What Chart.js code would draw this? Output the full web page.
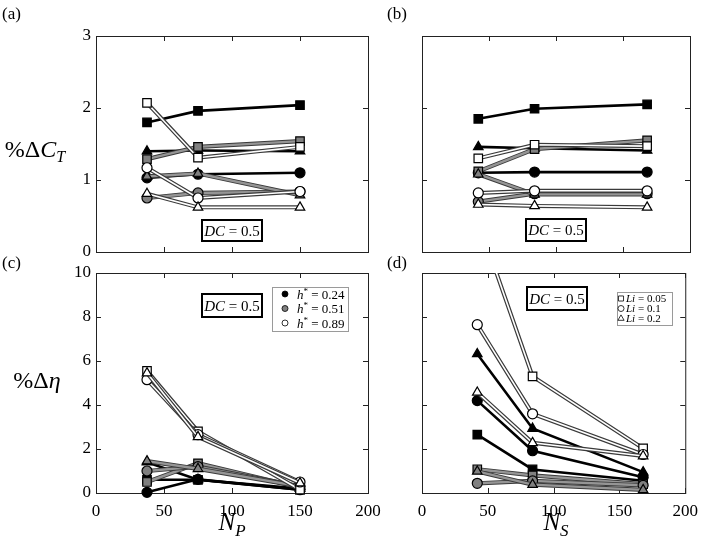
<!DOCTYPE html>
<html>
<head>
<meta charset="utf-8">
<script src="https://cdn.jsdelivr.net/npm/chart.js@4.4.1/dist/chart.umd.min.js"></script>
<style>
  body { margin: 0; background: #fff; }
  #wrap { position: relative; width: 706px; height: 542px; }
  #wrap canvas { position: absolute; left: 0; top: 0; }
</style>
</head>
<body>
<div id="wrap">
  <canvas id="pa" width="706" height="542"></canvas>
  <canvas id="pb" width="706" height="542"></canvas>
  <canvas id="pc" width="706" height="542"></canvas>
  <canvas id="pd" width="706" height="542"></canvas>
</div>
<script>
// x positions
const NP = [37.5, 75, 150];
const NS = [42, 84, 168];
const hStar = [0.24, 0.51, 0.89];
const LiVals = [0.05, 0.1, 0.2];
const xTicks = [0, 50, 100, 150, 200];
const ctTicks = [0, 1, 2, 3];
const etaTicks = [0, 2, 4, 6, 8, 10];

// rows: h*=0.24 (Li 0.05, 0.1, 0.2), h*=0.51 (...), h*=0.89 (...)
const dCT_NP = [
  [1.80, 1.96, 2.04], [1.03, 1.08, 1.10], [1.40, 1.41, 1.40],
  [1.29, 1.46, 1.54], [0.75, 0.82, 0.84], [1.05, 1.09, 0.79],
  [2.07, 1.31, 1.46], [1.17, 0.75, 0.84], [0.81, 0.62, 0.62]
];
const dCT_NS = [
  [1.85, 1.99, 2.05], [1.10, 1.11, 1.11], [1.46, 1.44, 1.41],
  [1.12, 1.43, 1.55], [0.70, 0.81, 0.81], [1.08, 0.80, 0.80],
  [1.30, 1.49, 1.47], [0.82, 0.85, 0.85], [0.66, 0.64, 0.62]
];
const dEta_NP = [
  [0.60, 0.60, 0.15], [0.03, 0.62, 0.15], [1.40, 0.60, 0.20],
  [0.50, 1.35, 0.25], [1.00, 1.20, 0.30], [1.45, 1.10, 0.30],
  [5.55, 2.80, 0.15], [5.15, 2.65, 0.50], [5.45, 2.55, 0.45]
];
const dEta_NS = [
  [2.65, 1.07, 0.56], [4.20, 1.92, 0.72], [6.32, 2.93, 0.95],
  [1.08, 0.80, 0.40], [0.44, 0.55, 0.35], [0.98, 0.38, 0.14],
  [12.5, 5.30, 2.03], [7.65, 3.60, 1.75], [4.57, 2.28, 1.68]
];

const FAM = '"Liberation Serif", "DejaVu Serif", serif';
const MARK = ['rect', 'circle', 'triangle'];
const MARK_R = [6, 5, 5.5];
const FILL = ['#000000', '#808080', '#ffffff'];
const LINE = ['#000000', '#959595', '#ffffff'];
const LINE_W = [2.6, 2.4, 1.6];
const EDGE_W = [0, 4.2, 4];

function buildSets(xs, rows) {
  const sets = [];
  const clip = { left: false, right: false, bottom: false, top: 0 };
  rows.forEach((vals, i) => {
    const h = Math.floor(i / 3), m = i % 3;
    const pts = vals.map((v, j) => ({ x: xs[j], y: v }));
    if (EDGE_W[h]) {
      sets.push({ data: pts, borderColor: '#3a3a3a', borderWidth: EDGE_W[h],
        pointRadius: 0, order: 2 * (9 - i) + 1, clip });
    }
    sets.push({ data: pts, borderColor: LINE[h], borderWidth: LINE_W[h],
      pointStyle: MARK[m], pointRadius: MARK_R[m], pointBackgroundColor: FILL[h],
      pointBorderColor: '#000', pointBorderWidth: 1.2, order: 2 * (9 - i), clip });
  });
  return sets;
}

// text with italic / sub / superscript parts
function rich(ctx, parts, x, y, size, align) {
  const fontOf = p => (p[1].includes('i') ? 'italic ' : '') +
    Math.round(/[sp]/.test(p[1]) ? size * 0.68 : size) + 'px ' + FAM;
  let w = 0;
  parts.forEach(p => { ctx.font = fontOf(p); w += ctx.measureText(p[0]).width; });
  let cx = align === 'center' ? x - w / 2 : align === 'right' ? x - w : x;
  ctx.textAlign = 'left';
  ctx.textBaseline = 'alphabetic';
  parts.forEach(p => {
    ctx.font = fontOf(p);
    const dy = p[1].includes('s') ? size * 0.22 : p[1].includes('p') ? -size * 0.38 : 0;
    ctx.fillText(p[0], cx, y + dy);
    cx += ctx.measureText(p[0]).width;
  });
}

const deco = {
  id: 'deco',
  beforeDatasetsDraw(chart) {
    const { ctx, chartArea: a, scales: { x, y } } = chart;
    ctx.save();
    ctx.strokeStyle = '#222';
    ctx.lineWidth = 1;
    ctx.strokeRect(a.left + 0.5, a.top + 0.5, a.width, a.height);
    ctx.beginPath();
    x.ticks.forEach(t => {
      const px = Math.round(x.getPixelForValue(t.value)) + 0.5;
      ctx.moveTo(px, a.bottom); ctx.lineTo(px, a.bottom - 5);
      ctx.moveTo(px, a.top); ctx.lineTo(px, a.top + 5);
    });
    y.ticks.forEach(t => {
      const py = Math.round(y.getPixelForValue(t.value)) + 0.5;
      ctx.moveTo(a.left, py); ctx.lineTo(a.left + 5, py);
      ctx.moveTo(a.right, py); ctx.lineTo(a.right - 5, py);
    });
    ctx.stroke();
    ctx.restore();
  },
  afterDatasetsDraw(chart, args, o) {
    const ctx = chart.ctx;
    ctx.save();
    ctx.fillStyle = '#000';
    ctx.font = '17px ' + FAM;
    ctx.textAlign = 'left';
    ctx.textBaseline = 'alphabetic';
    ctx.fillText(o.tag[0], o.tag[1], o.tag[2]);
    if (o.yTitle) rich(ctx, o.yTitle[0], o.yTitle[1], o.yTitle[2], 24, 'center');
    if (o.xTitle) rich(ctx, o.xTitle[0], o.xTitle[1], o.xTitle[2], 25, 'center');
    // DC box
    const [bx, by, bw, bh] = o.dc;
    ctx.fillStyle = '#fff';
    ctx.fillRect(bx, by, bw, bh);
    ctx.strokeStyle = '#000';
    ctx.lineWidth = 2;
    ctx.strokeRect(bx, by, bw, bh);
    ctx.fillStyle = '#000';
    rich(ctx, [['DC', 'i'], [' = 0.5', '']], bx + bw / 2, by + bh / 2 + 5, 15, 'center');
    // legend
    if (o.legend) {
      const L = o.legend;
      ctx.fillStyle = '#fff';
      ctx.fillRect(L.box[0], L.box[1], L.box[2], L.box[3]);
      ctx.strokeStyle = '#9a9a9a';
      ctx.lineWidth = 1;
      ctx.strokeRect(L.box[0] + 0.5, L.box[1] + 0.5, L.box[2], L.box[3]);
      L.items.forEach((it, k) => {
        const yy = L.y0 + k * L.dy;
        ctx.fillStyle = it.fill;
        ctx.strokeStyle = '#000';
        ctx.lineWidth = 0.8;
        Chart.helpers.drawPoint(ctx, { pointStyle: it.style, radius: it.r, borderWidth: 0.8, rotation: 0 }, L.mx, yy);
        ctx.fillStyle = '#000';
        rich(ctx, it.text, L.tx, yy + L.size * 0.35, L.size, 'left');
      });
    }
    ctx.restore();
  }
};

function makePanel(id, p) {
  const tickFont = { family: FAM, size: 17 };
  new Chart(document.getElementById(id), {
    type: 'line',
    data: { datasets: buildSets(p.xs, p.rows) },
    options: {
      responsive: false,
      animation: false,
      events: [],
      layout: { padding: { left: p.left - 30, right: 706 - p.right, top: p.top, bottom: 542 - p.bottom - 30 } },
      plugins: { legend: { display: false }, tooltip: { enabled: false }, deco: p.deco },
      scales: {
        x: {
          type: 'linear', min: 0, max: 200,
          afterBuildTicks: s => { s.ticks = xTicks.map(v => ({ value: v })); },
          afterFit: s => { s.height = 30; },
          grid: { display: false, drawTicks: false },
          border: { display: false },
          ticks: { display: p.showX, font: tickFont, color: '#000', padding: 8, maxRotation: 0 }
        },
        y: {
          type: 'linear', min: 0, max: p.yMax,
          afterBuildTicks: s => { s.ticks = p.yTicks.map(v => ({ value: v })); },
          afterFit: s => { s.width = 30; },
          grid: { display: false, drawTicks: false },
          border: { display: false },
          ticks: { display: p.showY, font: tickFont, color: '#000', padding: 5 }
        }
      }
    },
    plugins: [deco]
  });
}

const ctTitle = [['%\u0394', ''], ['C', 'i'], ['T', 'is']];
const etaTitle = [['%\u0394', ''], ['\u03B7', 'i']];
const hLegend = {
  box: [272, 287, 76, 44], mx: 285, tx: 297, y0: 294, dy: 14.5, size: 13,
  items: hStar.map((h, k) => ({ style: 'circle', r: 3, fill: FILL[k],
    text: [['h', 'i'], ['*', 'p'], [' = ' + h.toFixed(2), '']] }))
};
const liLegend = {
  box: [617, 292, 55, 33], mx: 621, tx: 626, y0: 298.5, dy: 10, size: 11,
  items: LiVals.map((v, k) => ({ style: MARK[k], r: [3.6, 3, 3.6][k], fill: '#fff',
    text: [['Li', 'i'], [' = ' + v, '']] }))
};

makePanel('pa', { xs: NP, rows: dCT_NP, yMax: 3, yTicks: ctTicks, left: 96, right: 368, top: 36, bottom: 252,
  showX: false, showY: true,
  deco: { tag: ['(a)', 2, 19], yTitle: [ctTitle, 35, 157], dc: [202, 220, 60, 21] } });
makePanel('pb', { xs: NS, rows: dCT_NS, yMax: 3, yTicks: ctTicks, left: 422, right: 690, top: 36, bottom: 252,
  showX: false, showY: false,
  deco: { tag: ['(b)', 387, 19], dc: [526, 219, 60, 22] } });
makePanel('pc', { xs: NP, rows: dEta_NP, yMax: 10, yTicks: etaTicks, left: 96, right: 368, top: 273, bottom: 493,
  showX: true, showY: true,
  deco: { tag: ['(c)', 2, 268], yTitle: [etaTitle, 37, 388], xTitle: [[['N', 'i'], ['P', 'is']], 232, 530],
    dc: [202, 294, 60, 23], legend: hLegend } });
makePanel('pd', { xs: NS, rows: dEta_NS, yMax: 10, yTicks: etaTicks, left: 422, right: 690, top: 273, bottom: 493,
  showX: true, showY: false,
  deco: { tag: ['(d)', 387, 268], xTitle: [[['N', 'i'], ['S', 'is']], 556, 530],
    dc: [527, 287, 60, 23], legend: liLegend } });
</script>
</body>
</html>
